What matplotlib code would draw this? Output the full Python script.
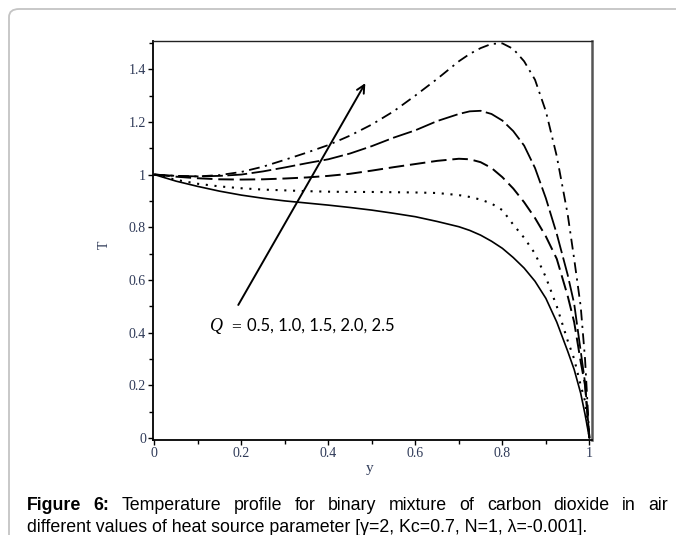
import matplotlib
matplotlib.use("Agg")
import matplotlib.pyplot as plt
from matplotlib.patches import FancyBboxPatch
from matplotlib.ticker import MultipleLocator, FixedLocator, FixedFormatter

# ---- data ----
y_pos = [0, 0.05, 0.1, 0.15, 0.2, 0.25, 0.3, 0.35, 0.4, 0.45, 0.5, 0.55, 0.6,
         0.65, 0.7, 0.725, 0.75, 0.775, 0.8, 0.825, 0.85, 0.875, 0.9, 0.925,
         0.95, 0.965, 0.98, 0.99, 1.0]
T_q05 = [1.0, 0.975, 0.955, 0.937, 0.922, 0.91, 0.9, 0.892, 0.884, 0.875, 0.865,
         0.853, 0.84, 0.822, 0.802, 0.788, 0.77, 0.747, 0.72, 0.685, 0.645,
         0.595, 0.53, 0.44, 0.33, 0.26, 0.17, 0.09, 0.0]
T_q10 = [1.0, 0.98, 0.965, 0.955, 0.948, 0.943, 0.94, 0.937, 0.935, 0.934, 0.934,
         0.933, 0.932, 0.93, 0.922, 0.915, 0.905, 0.89, 0.865, 0.81, 0.76, 0.70,
         0.61, 0.5, 0.37, 0.3, 0.2, 0.14, 0.0]
T_q15 = [1.0, 0.992, 0.986, 0.982, 0.981, 0.982, 0.985, 0.989, 0.995, 1.003,
         1.015, 1.028, 1.04, 1.052, 1.06, 1.058, 1.047, 1.025, 0.99, 0.947,
         0.895, 0.835, 0.765, 0.68, 0.54, 0.44, 0.29, 0.2, 0.0]
T_q20 = [1.0, 0.995, 0.993, 0.995, 1.0, 1.012, 1.027, 1.043, 1.058, 1.08, 1.108,
         1.14, 1.168, 1.203, 1.23, 1.24, 1.242, 1.23, 1.205, 1.165, 1.11, 1.025,
         0.91, 0.775, 0.62, 0.51, 0.33, 0.21, 0.0]
T_q25 = [1.0, 0.995, 0.993, 0.998, 1.01, 1.03, 1.056, 1.083, 1.112, 1.148, 1.19,
         1.24, 1.3, 1.363, 1.43, 1.458, 1.48, 1.496, 1.498, 1.477, 1.43, 1.36,
         1.24, 1.07, 0.85, 0.68, 0.5, 0.3, 0.0]
series = [T_q05, T_q10, T_q15, T_q20, T_q25]
x_ticks = [0, 0.2, 0.4, 0.6, 0.8, 1.0]
x_ticklabels = ['0', '0.2', '0.4', '0.6', '0.8', '1']
y_ticks = [0, 0.2, 0.4, 0.6, 0.8, 1.0, 1.2, 1.4]
y_ticklabels = ['0', '0.2', '0.4', '0.6', '0.8', '1', '1.2', '1.4']
annot_Q = "Q"
annot_vals = "0.5, 1.0, 1.5, 2.0, 2.5"
caption1_bold = "Figure 6:"
caption1 = "Temperature profile for binary mixture of carbon dioxide in air"
caption2 = "different values of heat source parameter [γ=2, Kc=0.7, N=1, λ=-0.001]."

W, H = 676, 535
fig = plt.figure(figsize=(W / 100, H / 100), dpi=100)
fig.patch.set_facecolor('white')

# page frame (rounded box, cut at right/bottom)
frame = FancyBboxPatch((9 / W, -0.2), 1.2, 1.2 - 9 / H,
                       boxstyle="round,pad=0,rounding_size=0.015",
                       transform=fig.transFigure, facecolor='none',
                       edgecolor='#c4c4c4', linewidth=1.3, zorder=-5)
fig.patches.append(frame)

ax = fig.add_axes([153 / W, 1 - 440 / H, (592 - 153) / W, (440 - 41) / H])
ax.set_facecolor('none')
ax.set_zorder(2)

styles = [
    dict(linestyle='-', linewidth=1.2),
    dict(linestyle=(0, (1.0, 3.2)), linewidth=1.5),
    dict(linestyle=(0, (8, 3)), linewidth=1.4),
    dict(linestyle=(0, (11, 2.5)), linewidth=1.3),
    dict(linestyle=(0, (6, 3, 1.2, 3)), linewidth=1.3),
]
for T, st in zip(series, styles):
    ax.plot(y_pos, T, color='black', **st)

ax.set_xlim(-0.003, 1.006)
ax.set_ylim(-0.0076, 1.507)

tick_color = '#2f3a58'
ax.xaxis.set_major_locator(FixedLocator(x_ticks))
ax.xaxis.set_major_formatter(FixedFormatter(x_ticklabels))
ax.yaxis.set_major_locator(FixedLocator(y_ticks))
ax.yaxis.set_major_formatter(FixedFormatter(y_ticklabels))
ax.xaxis.set_minor_locator(MultipleLocator(0.1))
ax.yaxis.set_minor_locator(MultipleLocator(0.1))
ax.tick_params(which='both', direction='out', color='black', width=1.0)
ax.tick_params(which='major', length=3.5, pad=1.5, labelsize=10,
               labelcolor=tick_color)
ax.tick_params(which='minor', length=3)
for lab in ax.get_xticklabels() + ax.get_yticklabels():
    lab.set_fontfamily('Liberation Serif')
ax.tick_params(top=False, right=False, which='both')

for s in ['left', 'bottom']:
    ax.spines[s].set_linewidth(1.3)
    ax.spines[s].set_color('black')
ax.spines['top'].set_linewidth(1.0)
ax.spines['top'].set_color('#222222')
ax.spines['right'].set_linewidth(1.8)
ax.spines['right'].set_color('#555555')

ax.set_ylabel('T', fontfamily='Liberation Serif', fontsize=10, color=tick_color)
ax.yaxis.set_label_coords((111 - 153) / 439, 0.49)
ax.set_xlabel('y', fontfamily='Liberation Serif', fontsize=11, color=tick_color)
ax.xaxis.set_label_coords((370 - 153) / 439, -(462 - 440) / 399)

# arrow
ax.annotate('', xy=(0.485, 1.347), xytext=(0.193, 0.505),
            arrowprops=dict(arrowstyle='->', color='black', lw=1.4,
                            mutation_scale=14, shrinkA=0, shrinkB=0))

# annotation text
ax.text(0.128, 0.406, annot_Q, fontfamily='Liberation Serif', style='italic',
        fontsize=13, va='baseline', ha='left')
ax.text(0.176, 0.406, '=', fontfamily='Liberation Serif',
        fontsize=12.5, va='baseline', ha='left')
ax.text(0.212, 0.406, annot_vals, fontfamily='Lato',
        fontsize=12, va='baseline', ha='left')

# caption, line 1 justified
fig.canvas.draw()
renderer = fig.canvas.get_renderer()
cap_size = 12.8
left_px, right_px = 27, 668
base1 = 1 - 510 / H
base2 = 1 - 532 / H
words = [(w, 'bold') for w in caption1_bold.split()] + \
        [(w, 'normal') for w in caption1.split()]
texts = []
widths = []
for w, wt in words:
    t = fig.text(0, base1, w, fontfamily='Liberation Sans', fontsize=cap_size,
                 fontweight=wt, va='baseline', ha='left')
    bb = t.get_window_extent(renderer=renderer)
    texts.append(t)
    widths.append(bb.width)
gap = (right_px - left_px - sum(widths)) / (len(words) - 1)
x = left_px
for t, wd in zip(texts, widths):
    t.set_x(x / W)
    x += wd + gap

fig.text(left_px / W, base2, caption2, fontfamily='Liberation Sans',
         fontsize=cap_size, va='baseline', ha='left')

fig.savefig('out.png', dpi=100)
